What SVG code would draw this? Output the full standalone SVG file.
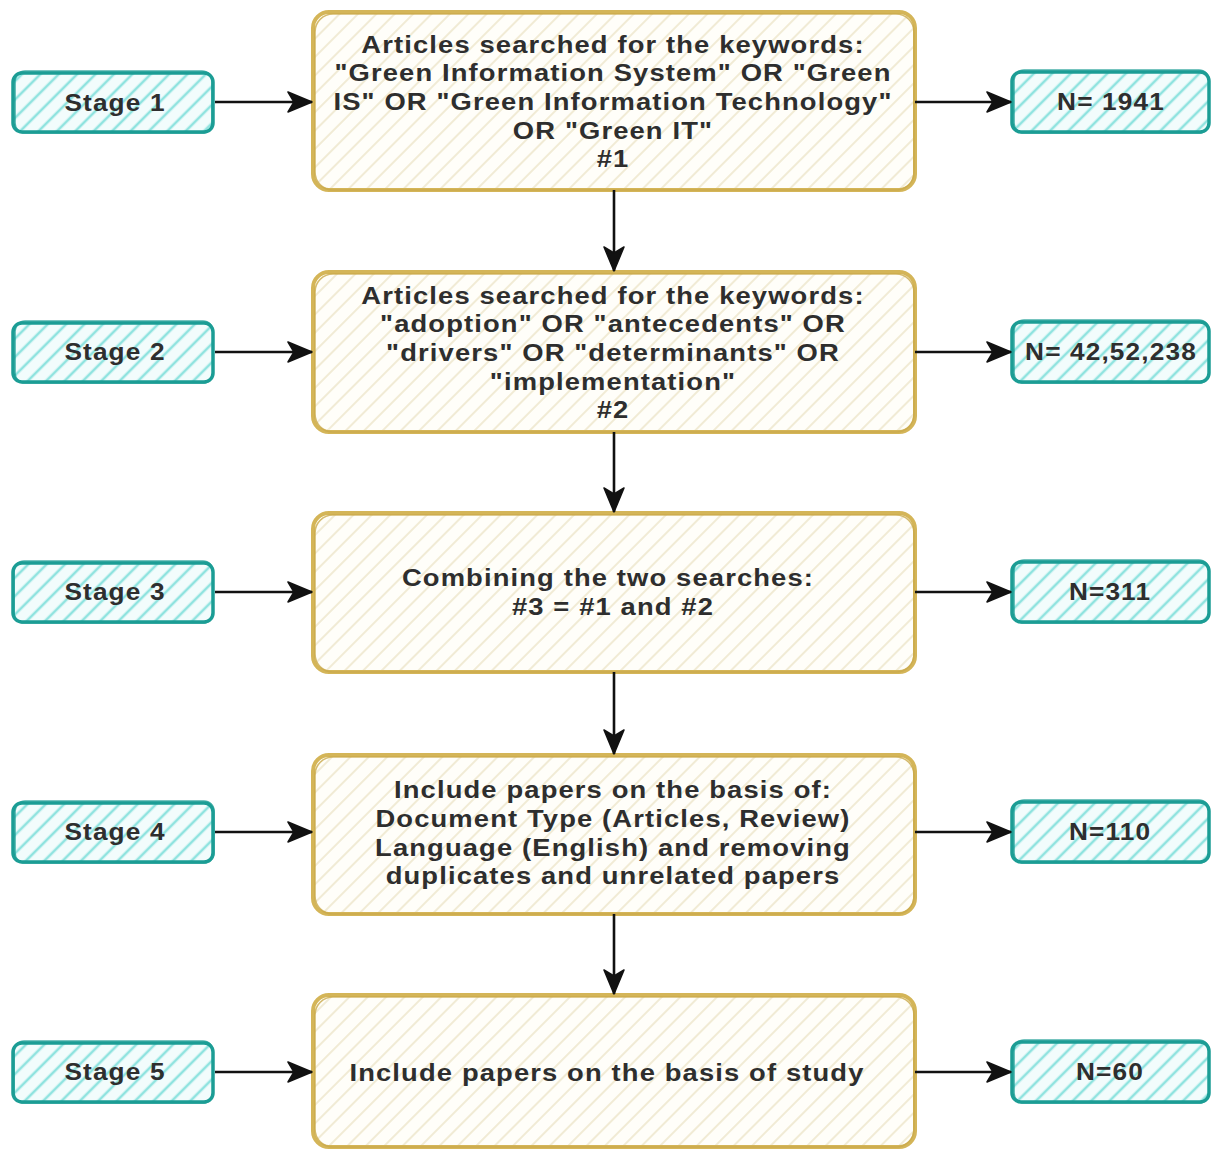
<svg xmlns="http://www.w3.org/2000/svg" width="1212" height="1151" viewBox="0 0 1212 1151">
  <defs>
    <pattern id="hatchTeal" patternUnits="userSpaceOnUse" width="13" height="13" patternTransform="rotate(45)">
      <rect width="13" height="13" fill="#f2fcfc"/>
      <line x1="3" y1="0" x2="3" y2="13" stroke="#8fe3df" stroke-width="2.6"/>
    </pattern>
    <pattern id="hatchCream" patternUnits="userSpaceOnUse" width="13" height="13" patternTransform="rotate(45)">
      <rect width="13" height="13" fill="#fffef9"/>
      <line x1="3" y1="0" x2="3" y2="13" stroke="#f1ebd5" stroke-width="2"/>
    </pattern>
    <marker id="arrow" viewBox="0 0 26 22" refX="25" refY="11" markerWidth="26" markerHeight="22" markerUnits="userSpaceOnUse" orient="auto">
      <path d="M1,1 L25,11 L1,21 L7,11 Z" fill="#111" stroke="#111" stroke-width="1.5" stroke-linejoin="round"/>
    </marker>
  </defs>
  <style>
    .stage rect.body { fill: url(#hatchTeal); stroke: #1c9d95; stroke-width: 3.5; }
    .stage rect.trace { fill: none; stroke: #1c9d95; stroke-width: 1.6; opacity: 0.8; }
    .step rect.body { fill: url(#hatchCream); stroke: #d4b558; stroke-width: 4; }
    .step rect.trace { fill: none; stroke: #c9a94a; stroke-width: 1.6; opacity: 0.8; }
    text { font-family: "Liberation Sans", Arial, sans-serif; font-weight: bold; font-size: 24px; letter-spacing: 1px; fill: #2e2e2e; text-anchor: middle;
           transform-box: fill-box; transform-origin: center; transform: scaleX(1.14); }
    .stage text { font-size: 23px; }
    .conn line { stroke: #111; stroke-width: 2.6; marker-end: url(#arrow); }
  </style>

  <rect width="1212" height="1151" fill="#ffffff"/>

  <!-- left-hand stage labels -->
  <g id="stage1" class="stage">
    <rect class="body" x="13" y="73" width="200" height="59" rx="9"/>
    <rect class="trace" x="15" y="71" width="197" height="62" rx="10"/>
    <text x="115" y="111">Stage 1</text>
  </g>
  <g id="stage2" class="stage">
    <rect class="body" x="13" y="323" width="200" height="59" rx="9"/>
    <rect class="trace" x="15" y="321" width="198" height="62" rx="10"/>
    <text x="115" y="360">Stage 2</text>
  </g>
  <g id="stage3" class="stage">
    <rect class="body" x="13" y="563" width="200" height="59" rx="9"/>
    <rect class="trace" x="14" y="561" width="199" height="62" rx="10"/>
    <text x="115" y="600">Stage 3</text>
  </g>
  <g id="stage4" class="stage">
    <rect class="body" x="13" y="803" width="200" height="59" rx="9"/>
    <rect class="trace" x="15" y="801" width="199" height="62" rx="10"/>
    <text x="115" y="840">Stage 4</text>
  </g>
  <g id="stage5" class="stage">
    <rect class="body" x="13" y="1043" width="200" height="59" rx="9"/>
    <rect class="trace" x="14" y="1041" width="199" height="62" rx="10"/>
    <text x="115" y="1080">Stage 5</text>
  </g>

  <!-- central process steps -->
  <g id="step1" class="step">
    <rect class="body" x="313" y="12" width="602" height="178" rx="16"/>
    <rect class="trace" x="315" y="14" width="599" height="176" rx="18"/>
    <text x="613" y="53">Articles searched for the keywords:</text>
    <text x="613" y="81">"Green Information System" OR "Green</text>
    <text x="613" y="110">IS" OR "Green Information Technology"</text>
    <text x="613" y="139">OR "Green IT"</text>
    <text x="613" y="167">#1</text>
  </g>
  <g id="step2" class="step">
    <rect class="body" x="313" y="272" width="602" height="160" rx="16"/>
    <rect class="trace" x="315" y="274" width="599" height="158" rx="18"/>
    <text x="613" y="304">Articles searched for the keywords:</text>
    <text x="613" y="332">"adoption" OR "antecedents" OR</text>
    <text x="613" y="361">"drivers" OR "determinants" OR</text>
    <text x="613" y="390">"implementation"</text>
    <text x="613" y="418">#2</text>
  </g>
  <g id="step3" class="step">
    <rect class="body" x="313" y="513" width="602" height="159" rx="16"/>
    <rect class="trace" x="315" y="515" width="599" height="157" rx="18"/>
    <text x="608" y="586">Combining the two searches:</text>
    <text x="613" y="615">#3 = #1 and #2</text>
  </g>
  <g id="step4" class="step">
    <rect class="body" x="313" y="755" width="602" height="159" rx="16"/>
    <rect class="trace" x="315" y="757" width="599" height="157" rx="18"/>
    <text x="613" y="798">Include papers on the basis of:</text>
    <text x="613" y="827">Document Type (Articles, Review)</text>
    <text x="613" y="856">Language (English) and removing</text>
    <text x="613" y="884">duplicates and unrelated papers</text>
  </g>
  <g id="step5" class="step">
    <rect class="body" x="313" y="995" width="602" height="152" rx="16"/>
    <rect class="trace" x="315" y="997" width="599" height="150" rx="18"/>
    <text x="607" y="1081">Include papers on the basis of study</text>
  </g>

  <!-- right-hand result counts -->
  <g id="count1" class="stage">
    <rect class="body" x="1012" y="72" width="197" height="60" rx="9"/>
    <rect class="trace" x="1014" y="70" width="195" height="63" rx="10"/>
    <text x="1111" y="110">N= 1941</text>
  </g>
  <g id="count2" class="stage">
    <rect class="body" x="1012" y="322" width="197" height="60" rx="9"/>
    <rect class="trace" x="1014" y="320" width="195" height="63" rx="10"/>
    <text x="1111" y="360">N= 42,52,238</text>
  </g>
  <g id="count3" class="stage">
    <rect class="body" x="1012" y="562" width="197" height="60" rx="9"/>
    <rect class="trace" x="1014" y="560" width="195" height="63" rx="10"/>
    <text x="1110" y="600">N=311</text>
  </g>
  <g id="count4" class="stage">
    <rect class="body" x="1012" y="802" width="197" height="60" rx="9"/>
    <rect class="trace" x="1014" y="800" width="195" height="63" rx="10"/>
    <text x="1110" y="840">N=110</text>
  </g>
  <g id="count5" class="stage">
    <rect class="body" x="1012" y="1042" width="197" height="60" rx="9"/>
    <rect class="trace" x="1014" y="1040" width="195" height="63" rx="10"/>
    <text x="1110" y="1080">N=60</text>
  </g>

  <!-- connectors -->
  <g id="connectors" class="conn">
    <line x1="215" y1="102" x2="312" y2="102"/>
    <line x1="215" y1="352" x2="312" y2="352"/>
    <line x1="215" y1="592" x2="312" y2="592"/>
    <line x1="215" y1="832" x2="312" y2="832"/>
    <line x1="215" y1="1072" x2="312" y2="1072"/>

    <line x1="915" y1="102" x2="1011" y2="102"/>
    <line x1="915" y1="352" x2="1011" y2="352"/>
    <line x1="915" y1="592" x2="1011" y2="592"/>
    <line x1="915" y1="832" x2="1011" y2="832"/>
    <line x1="915" y1="1072" x2="1011" y2="1072"/>

    <line x1="614" y1="190" x2="614" y2="271"/>
    <line x1="614" y1="432" x2="614" y2="512"/>
    <line x1="614" y1="672" x2="614" y2="754"/>
    <line x1="614" y1="914" x2="614" y2="994"/>
  </g>
</svg>
